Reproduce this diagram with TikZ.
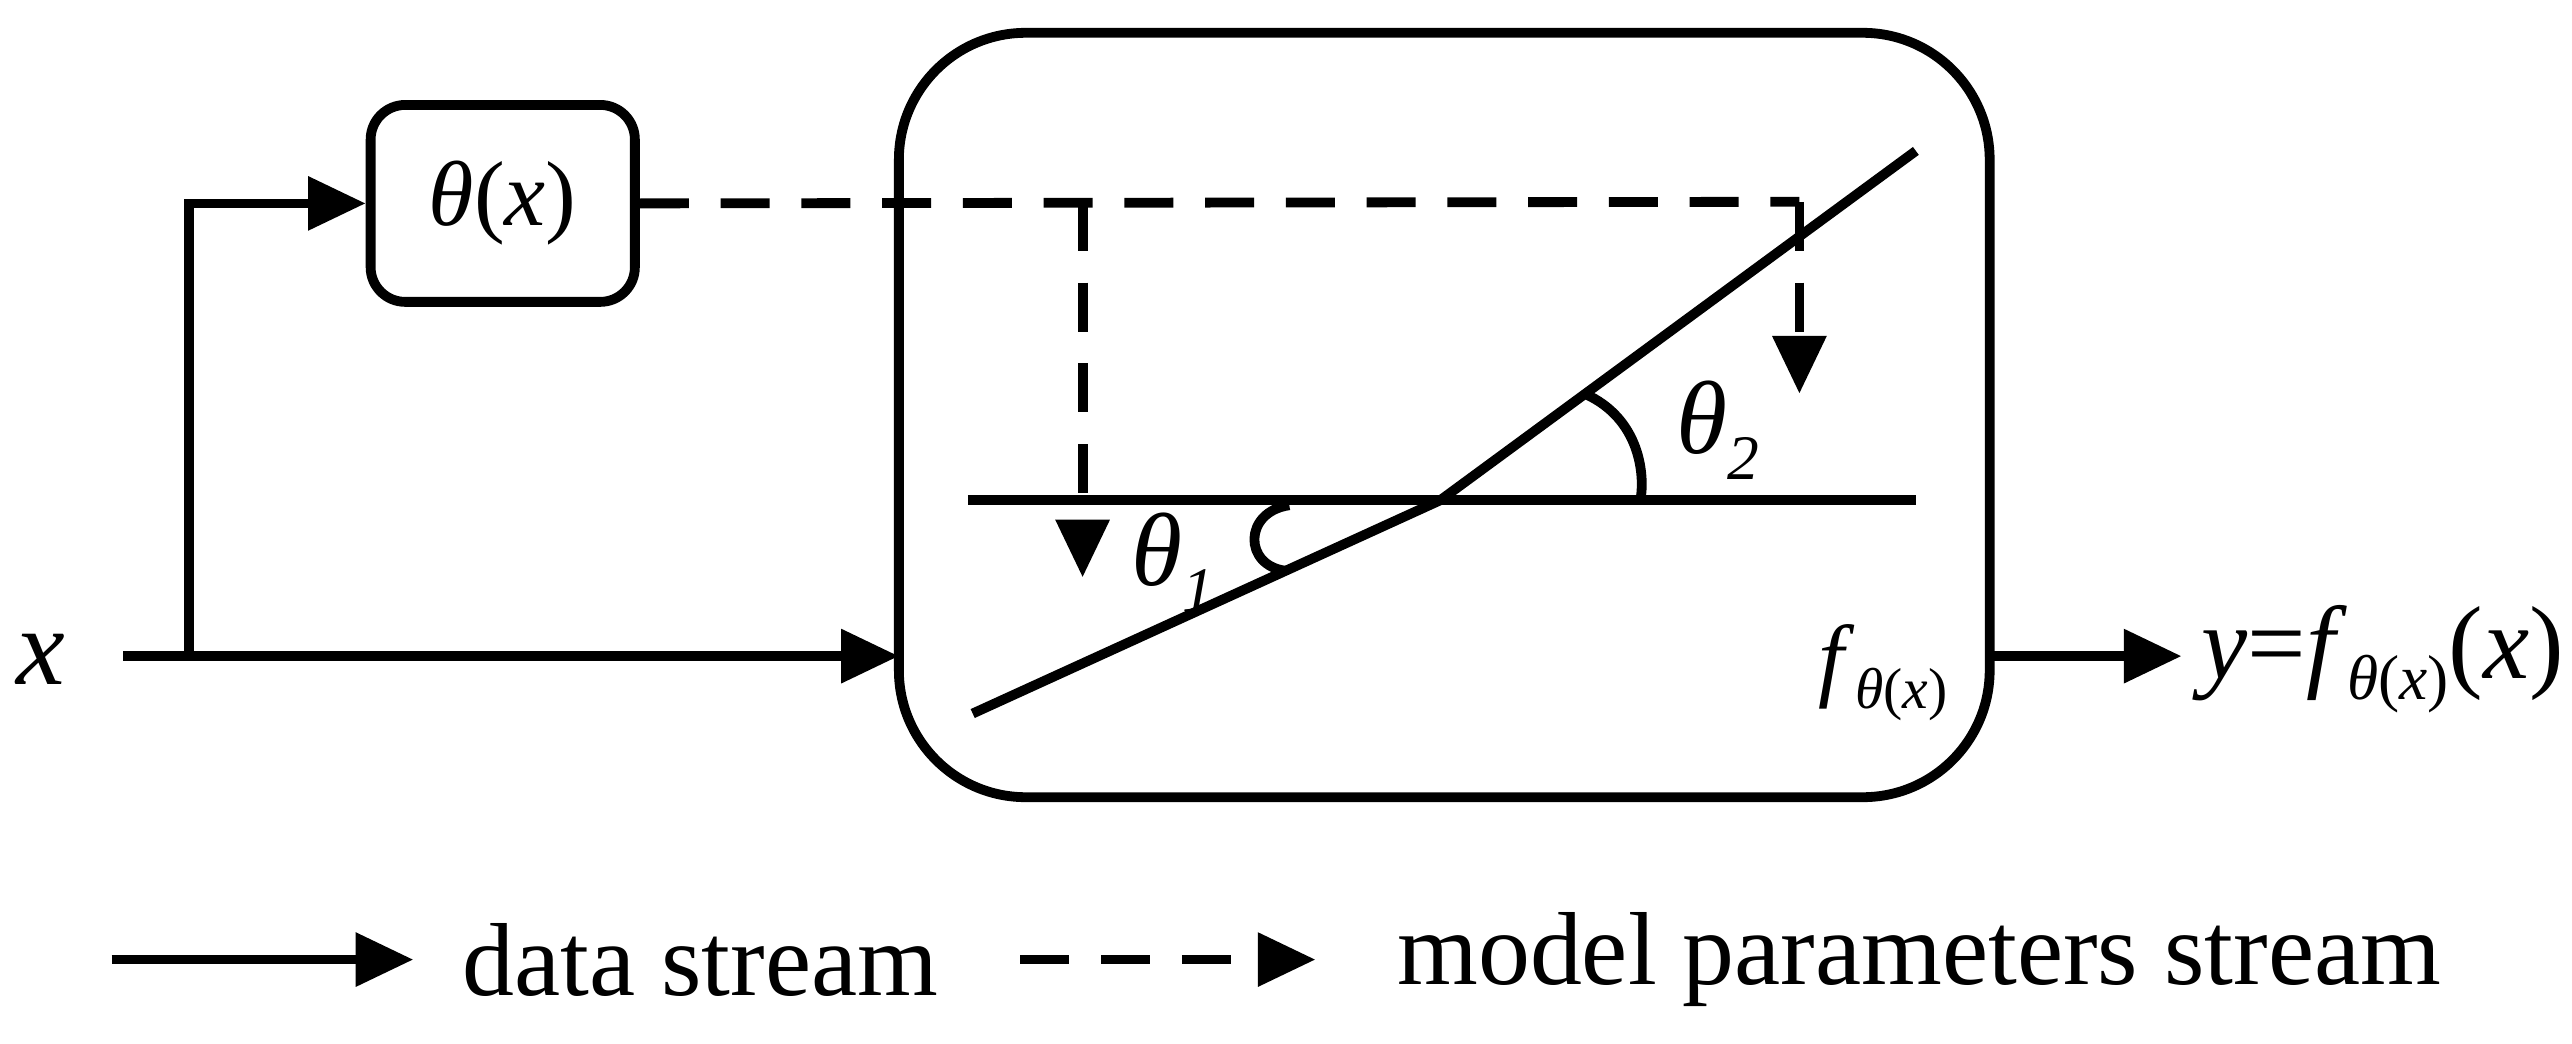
\documentclass[tikz,border=0pt]{standalone}
\usepackage{fontspec}
\setmainfont{Liberation Serif}
\usetikzlibrary{arrows.meta}
\begin{document}
\begin{tikzpicture}[x=0.01cm,y=-0.01cm,
  ln/.style={line width=1.7pt},
  arr/.style={ln,-{Triangle[length=10pt,width=9pt]}},
  dsh/.style={dash pattern=on 8.5pt off 5.5pt},
  lbl/.style={font=\fontsize{16}{19}\selectfont,inner sep=1pt}]
\useasboundingbox (0,0) rectangle (1568,636);
\draw[ln,rounded corners=22pt] (548,20) rectangle (1213,486);
\coordinate (bigL) at (548,400); \coordinate (bigR) at (1213,400);
\node[ln,draw,rounded corners=6pt,minimum width=1.61cm,minimum height=1.2cm,lbl] (th) at (306.5,124) {\textit{θ}(\textit{x})};
\node[lbl,font=\fontsize{19}{22}\selectfont\itshape] (x) at (25,402) {x};
\coordinate (j) at (115,400);
\draw[ln] (75,400) -- (j);
\draw[arr] (j) -- (bigL);
\draw[arr] (j) |- (th.west);
\coordinate (d1) at (1097,123); \coordinate (d1e) at (1097,240);
\coordinate (d2) at (660,123); \coordinate (d2e) at (660,352);
\draw[ln,dsh] (th.east) -- (d1);
\draw[arr,dsh] (d1) -- (d1e);
\draw[arr,dsh] (d2) -- (d2e);
\coordinate (h1) at (590,305); \coordinate (h2) at (1168,305);
\coordinate (o) at (878,305);
\draw[ln] (h1) -- (h2);
\draw[ln] (593,435) -- (o) -- (1168,92);
\draw[ln] (966,240) .. controls (1000,255) and (1003,290) .. (1000,305);
\draw[ln] (786,308) .. controls (758,312) and (758,345) .. (784,348);
\node[lbl,font=\fontsize{18}{22}\selectfont] (t1) at (715,343) {\textit{θ}\raisebox{-0.25em}{\fontsize{11}{12}\selectfont\textit{1}}};
\node[lbl,font=\fontsize{18}{22}\selectfont] (t2) at (1047,262) {\textit{θ}\raisebox{-0.25em}{\fontsize{11}{12}\selectfont\textit{2}}};
\node[lbl,font=\fontsize{16}{19}\selectfont] (f) at (1148,410) {\textit{f}\raisebox{-0.2em}{\fontsize{10}{12}\selectfont\textit{θ}(\textit{x})}};
\draw[arr] (bigR) -- (1330,400);
\node[lbl,font=\fontsize{18}{22}\selectfont,anchor=west] (y) at (1338,402) {\textit{y}=\textit{f}\raisebox{-0.2em}{\fontsize{11}{13}\selectfont\textit{θ}(\textit{x})}(\textit{x})};
\draw[arr] (68,585) -- (252,585);
\node[lbl,font=\fontsize{18}{22}\selectfont] (l1) at (427,585) {data stream};
\draw[arr,dsh] (622,585) -- (802,585);
\node[lbl,font=\fontsize{18}{22}\selectfont] (l2) at (1170,585) {model parameters stream};
\end{tikzpicture}
\end{document}
